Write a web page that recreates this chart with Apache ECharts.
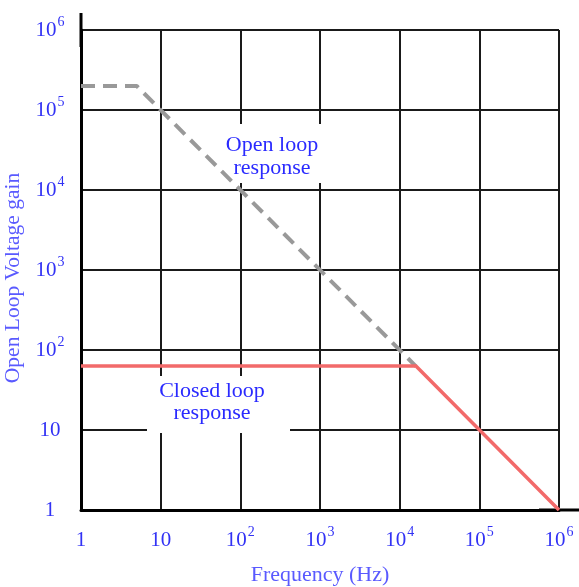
<!DOCTYPE html>
<html>
<head>
<meta charset="utf-8">
<script src="https://cdn.jsdelivr.net/npm/echarts@6/dist/echarts.min.js"></script>
<style>
html,body{margin:0;padding:0;background:#fff;}
#c{width:579px;height:587px;}
</style>
</head>
<body>
<div id="c"></div>
<script>
// Data
const openLoop = [[1, 200000], [5, 200000], [16000, 62.5]];
const closedLoop = [[1, 63], [16000, 63], [1000000, 1]];
const xTickLabels = {1: '{n|1}', 10: '{n|10}', 100: '{n|10}{sup|2}', 1000: '{n|10}{sup|3}', 10000: '{n|10}{sup|4}', 100000: '{n|10}{sup|5}', 1000000: '{n|10}{sup|6}'};
const yTickLabels = {1: '{n|1}', 10: '{n|10}', 100: '{n|10}{sup|2}', 1000: '{n|10}{sup|3}', 10000: '{n|10}{sup|4}', 100000: '{n|10}{sup|5}', 1000000: '{n|10}{sup|6}'};
const xName = 'Frequency (Hz)';
const yName = 'Open Loop Voltage gain';
const openText = 'Open loop\nresponse';
const closedText = 'Closed loop\nresponse';

const tickColor = '#3232f5';
const nameColor = '#5a5aff';
const font = '"Liberation Serif", "Times New Roman", serif';

function lab(map) {
  return function (v) {
    const k = Math.round(v);
    return map[k] !== undefined ? map[k] : '';
  };
}
const rich = {
  n: { fontSize: 21, fontFamily: font, color: tickColor, lineHeight: 32 },
  sup: { fontSize: 14, fontFamily: font, color: tickColor, lineHeight: 16, padding: [0, 0, 16, 1] }
};

const chart = echarts.init(document.getElementById('c'));
chart.setOption({
  backgroundColor: '#fff',
  animation: false,
  grid: { left: 81, right: 20, top: 30, bottom: 77, containLabel: false, outerBoundsMode: 'none' },
  xAxis: {
    type: 'log', logBase: 10, min: 1, max: 1000000,
    name: xName, nameLocation: 'middle', nameGap: 54,
    nameTextStyle: { color: nameColor, fontFamily: font, fontSize: 22 },
    axisLine: { show: true, symbol: ['none', 'rect'], symbolSize: [3, 40], lineStyle: { color: '#000', width: 3 } },
    axisTick: { show: false },
    splitLine: { show: true, lineStyle: { color: '#1a1a1a', width: 2 } },
    axisLabel: { formatter: lab(xTickLabels), margin: 14, color: tickColor, fontFamily: font, fontSize: 21, rich: rich, showMaxLabel: true, showMinLabel: true }
  },
  yAxis: {
    type: 'log', logBase: 10, min: 1, max: 1000000,
    name: yName, nameLocation: 'middle', nameGap: 52, nameRotate: 90,
    nameTextStyle: { color: nameColor, fontFamily: font, fontSize: 21.5, padding: [0, 16, 0, 0] },
    axisLine: { show: true, symbol: ['none', 'rect'], symbolSize: [3, 34], lineStyle: { color: '#000', width: 3 } },
    axisTick: { show: false },
    splitLine: { show: true, lineStyle: { color: '#1a1a1a', width: 2 } },
    axisLabel: { formatter: lab(yTickLabels), margin: 31, align: 'center', color: tickColor, fontFamily: font, fontSize: 21, rich: rich, showMaxLabel: true, showMinLabel: true }
  },
  series: [
    {
      type: 'line', data: openLoop, showSymbol: false, z: 3,
      lineStyle: { color: '#999999', width: 4, type: [14, 8] }
    },
    {
      type: 'line', data: closedLoop, showSymbol: false, z: 4,
      lineStyle: { color: '#f26a6a', width: 3.5 }
    }
  ],
  graphic: [
    { type: 'rect', z: 1, shape: { x: 212, y: 124, width: 118, height: 59 }, style: { fill: '#fff' } },
    { type: 'text', z: 5, x: 272, y: 157, style: { text: openText, fill: '#2a2aff', font: '22px ' + font, align: 'center', verticalAlign: 'middle', lineHeight: 23 } },
    { type: 'rect', z: 1, shape: { x: 147, y: 376, width: 143, height: 57 }, style: { fill: '#fff' } },
    { type: 'text', z: 5, x: 212, y: 402, style: { text: closedText, fill: '#2a2aff', font: '22px ' + font, align: 'center', verticalAlign: 'middle', lineHeight: 22 } }
  ]
});
</script>
</body>
</html>
